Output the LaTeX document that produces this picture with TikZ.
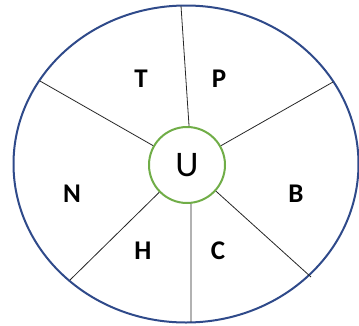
\documentclass[tikz,border=0pt]{standalone}
\usepackage{fontspec}
\setmainfont{Carlito}
\usetikzlibrary{shapes.geometric}
\definecolor{rimblue}{HTML}{2F4A8A}
\definecolor{hubgreen}{HTML}{70AD47}
\tikzset{
  rim/.style={draw=rimblue, line width=2pt, ellipse, minimum width=345pt, minimum height=317pt, inner sep=0pt},
  hub/.style={draw=hubgreen, line width=2pt, circle, minimum size=76pt, inner sep=0pt, font=\fontsize{36}{36}\selectfont},
  lbl/.style={font=\fontsize{27}{27}\selectfont\bfseries},
  spoke/.style={draw=black!85, line width=0.8pt}
}
\begin{document}
\begin{tikzpicture}[x=1pt,y=-1pt]
\useasboundingbox (0,0) rectangle (359,325);
\node[rim] (E) at (186,164) {};
\node[hub] (U) at (187,165) {U};
\coordinate (o1) at (181,6);
\coordinate (o2) at (333,82);
\coordinate (o3) at (311,277);
\coordinate (o4) at (191,322);
\coordinate (o5) at (70,280);
\coordinate (o6) at (40,81);
\draw[spoke] (U.87) -- (o1);
\draw[spoke] (U) -- (o2);
\draw[spoke] (U) -- (o3);
\draw[spoke] (U.-84) -- (o4);
\draw[spoke] (U) -- (o5);
\draw[spoke] (U) -- (o6);
\node[lbl] (T) at (141,79) {T};
\node[lbl] (P) at (219,79) {P};
\node[lbl] (B) at (296,194) {B};
\node[lbl] (C) at (218,251) {C};
\node[lbl] (H) at (143,251) {H};
\node[lbl] (N) at (72,194) {N};
\end{tikzpicture}
\end{document}
